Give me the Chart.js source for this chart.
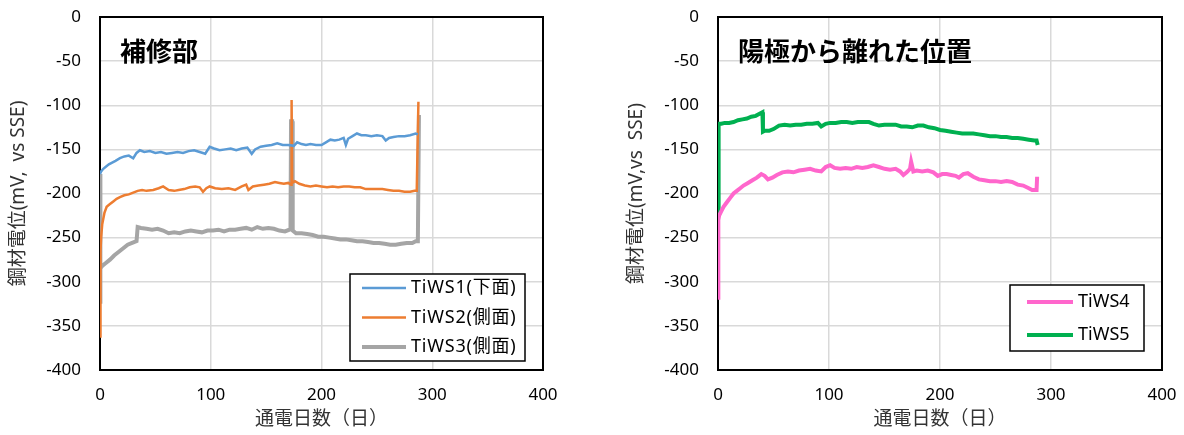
<!DOCTYPE html>
<html>
<head>
<meta charset="utf-8">
<script src="https://cdn.jsdelivr.net/npm/chart.js@4"></script>
<style>
    html, body { margin: 0; padding: 0; background: #fff; }
    #wrap { position: relative; width: 1184px; height: 435px; }
    #c1 { position: absolute; left: 0; top: 0; }
    #c2 { position: absolute; left: 618px; top: 0; }
</style>
</head>
<body>
<div id="wrap">
    <canvas id="c1" width="600" height="435"></canvas>
    <canvas id="c2" width="566" height="435"></canvas>
</div>
<script>
// --- data (days, mV vs SSE) ---
const days1 = [0, 1, 3, 5, 8, 11, 14, 18, 22, 26, 30, 33, 36, 40, 45, 50, 55, 60, 65, 70,
    75, 80, 85, 90, 95, 99, 103, 108, 113, 118, 123, 128, 133, 137, 140, 145, 150, 155, 160, 165,
    170, 175, 178, 182, 186, 190, 195, 200, 204, 208, 212, 216, 220, 222, 224, 228, 232, 236, 240, 245,
    250, 255, 258, 261, 265, 270, 275, 280, 285, 287];
const tiws1 = [-178, -175, -172, -170, -167, -165, -163, -160, -158, -157, -160, -154, -151, -153, -152, -154, -153, -155, -154, -153,
    -154, -152, -151, -153, -155, -147, -149, -151, -150, -149, -151, -149, -148, -155, -150, -147, -146, -145, -143, -145,
    -145, -146, -142, -144, -145, -144, -145, -145, -142, -139, -140, -139, -137, -145, -138, -135, -132, -134, -134, -135,
    -134, -135, -140, -137, -136, -135, -135, -134, -132, -133];

const days2 = [0, 0.3, 0.6, 1, 2, 4, 6, 9, 12, 15, 18, 22, 26, 30, 34, 38, 42, 48, 53, 57,
    62, 67, 71, 76, 81, 86, 90, 93, 96, 99, 104, 110, 116, 122, 128, 132, 134, 138, 143, 148,
    153, 158, 162, 166, 170, 172.5, 173, 173.5, 176, 180, 185, 190, 195, 200, 205, 210, 215, 220, 225, 230,
    235, 240, 245, 250, 255, 260, 265, 270, 275, 280, 284, 286, 287.5];
const tiws2 = [-362, -300, -265, -250, -235, -222, -215, -212, -209, -206, -204, -202, -201, -199, -197, -196, -197, -196, -194, -192,
    -196, -197, -196, -195, -193, -192, -193, -198, -194, -192, -194, -195, -194, -196, -192, -190, -196, -192, -191, -190,
    -189, -187, -188, -189, -188, -190, -94, -188, -186, -189, -191, -192, -191, -192, -193, -192, -193, -192, -192, -193,
    -193, -195, -195, -195, -195, -196, -197, -197, -198, -198, -197, -197, -96];

const days3 = [0, 0.2, 0.5, 2, 5, 9, 13, 17, 21, 25, 29, 33, 34, 37, 42, 47, 52, 57, 62, 67,
    72, 77, 82, 87, 92, 97, 102, 107, 112, 117, 122, 127, 132, 137, 142, 147, 152, 157, 162, 167,
    171, 172, 172.5, 173.5, 174, 177, 182, 187, 192, 197, 202, 207, 212, 217, 222, 227, 232, 237, 242, 247,
    252, 257, 262, 267, 272, 277, 282, 285, 287, 288];
const tiws3 = [-178, -325, -285, -282, -279, -275, -270, -266, -262, -258, -256, -254, -238, -239, -240, -241, -240, -242, -245, -244,
    -245, -243, -242, -243, -244, -242, -242, -241, -243, -241, -241, -240, -239, -241, -238, -240, -239, -240, -242, -243,
    -241, -240, -118, -118, -242, -245, -245, -246, -247, -249, -249, -250, -251, -252, -252, -253, -254, -254, -255, -256,
    -256, -257, -258, -258, -257, -256, -256, -254, -254, -111];

const days4 = [0, 0.3, 1, 3, 5, 8, 11, 14, 17, 20, 23, 27, 31, 35, 39, 42, 45, 49, 53, 58,
    63, 68, 73, 78, 83, 88, 93, 97, 101, 105, 110, 115, 120, 125, 130, 135, 140, 145, 150, 155,
    160, 164, 167, 170, 173, 174, 176, 179, 184, 189, 194, 198, 202, 206, 210, 214, 217, 221, 225, 230,
    235, 240, 245, 250, 255, 260, 265, 270, 275, 280, 283, 286, 287, 287.5];
const tiws4 = [-318, -230, -225, -220, -215, -210, -205, -200, -197, -194, -191, -188, -185, -182, -178, -180, -184, -182, -179, -176,
    -175, -176, -174, -173, -172, -174, -175, -170, -168, -171, -172, -171, -172, -170, -171, -170, -168, -170, -172, -173,
    -172, -175, -179, -176, -172, -164, -175, -174, -175, -174, -176, -180, -178, -178, -179, -180, -182, -178, -177, -181,
    -184, -185, -186, -186, -187, -186, -187, -190, -191, -194, -196, -196, -196, -181];

const days5 = [0, 0.3, 0.8, 3, 6, 10, 14, 18, 22, 26, 30, 34, 37, 40, 40.5, 42, 46, 50, 55, 60,
    65, 70, 75, 80, 85, 90, 93, 97, 101, 106, 111, 116, 121, 126, 131, 136, 140, 145, 150, 155,
    160, 165, 170, 175, 180, 185, 190, 195, 200, 205, 210, 215, 220, 225, 230, 235, 240, 245, 250, 255,
    260, 265, 270, 275, 280, 285, 287, 288];
const tiws5 = [-222, -143, -121, -121, -120, -120, -119, -117, -116, -115, -113, -112, -110, -108, -130, -129, -129, -127, -123, -122,
    -123, -122, -122, -121, -121, -120, -124, -121, -120, -120, -119, -119, -120, -119, -119, -119, -121, -123, -122, -122,
    -122, -124, -124, -125, -123, -123, -125, -126, -128, -129, -130, -131, -132, -132, -132, -133, -134, -135, -135, -136,
    -136, -137, -137, -138, -139, -140, -140, -145];

const xTicks = [0, 100, 200, 300, 400];
const yTicks = [0, -50, -100, -150, -200, -250, -300, -350, -400];

const pts = (xs, ys) => xs.map((x, i) => ({ x: x, y: ys[i] }));

const latin = "'Noto Sans', 'Noto Sans CJK JP', sans-serif";
const cjk = "'Noto Sans CJK JP', 'Noto Sans', sans-serif";

// black frame round the plot area (under the lines)
const frame = {
    id: 'frame',
    beforeDatasetsDraw(chart) {
        const { ctx, chartArea: a } = chart;
        ctx.save();
        ctx.strokeStyle = '#000';
        ctx.lineWidth = 2;
        ctx.strokeRect(a.left, a.top, a.right - a.left, a.bottom - a.top);
        ctx.restore();
    }
};

// bold caption in the upper left of the plot
const cornerTitle = {
    id: 'cornerTitle',
    afterDatasetsDraw(chart, args, o) {
        const { ctx, chartArea: a } = chart;
        ctx.save();
        ctx.font = 'bold 26px ' + cjk;
        ctx.fillStyle = '#000';
        ctx.textBaseline = 'middle';
        ctx.fillText(o.text, a.left + o.dx, a.top + o.dy);
        ctx.restore();
    }
};

// boxed legend inside the plot, lower right
const boxLegend = {
    id: 'boxLegend',
    afterDraw(chart, args, o) {
        const { ctx, chartArea: a } = chart;
        const x = a.right - o.right - o.width;
        const y = a.bottom - o.bottom - o.height;
        ctx.save();
        ctx.fillStyle = '#fff';
        ctx.fillRect(x, y, o.width, o.height);
        ctx.strokeStyle = '#000';
        ctx.lineWidth = 1.5;
        ctx.strokeRect(x, y, o.width, o.height);
        ctx.font = '18px ' + latin;
        if ('letterSpacing' in ctx) ctx.letterSpacing = o.spacing;
        ctx.textBaseline = 'middle';
        chart.data.datasets.forEach((ds, i) => {
            const cy = y + o.first + i * o.gap;
            ctx.strokeStyle = ds.borderColor;
            ctx.lineWidth = ds.borderWidth;
            ctx.beginPath();
            ctx.moveTo(x + o.lineStart, cy);
            ctx.lineTo(x + o.lineStart + o.lineLen, cy);
            ctx.stroke();
            ctx.fillStyle = '#000';
            ctx.fillText(ds.label, x + o.lineStart + o.lineLen + 5, cy);
        });
        ctx.restore();
    }
};

function line(label, xs, ys, color, width) {
    return {
        label: label,
        data: pts(xs, ys),
        borderColor: color,
        backgroundColor: color,
        borderWidth: width,
        showLine: true,
        pointRadius: 0,
        tension: 0
    };
}

// tick gaps are made with invisible tick marks, so they do not widen the layout padding
function makeOptions(yTitle, padRight, title, legend) {
    return {
        responsive: false,
        animation: false,
        layout: { padding: { top: 17, right: padRight, bottom: 0, left: 0 } },
        scales: {
            x: {
                type: 'linear',
                min: 0,
                max: 400,
                afterBuildTicks: (s) => { s.ticks = xTicks.map(v => ({ value: v })); },
                afterFit: (s) => { s.height = 65; },
                grid: { color: '#d9d9d9', lineWidth: 1.5, drawTicks: true, tickLength: 15, tickColor: 'rgba(0,0,0,0)' },
                border: { display: false },
                ticks: { color: '#000', padding: 0, font: { family: latin, size: 17 } },
                title: {
                    display: true,
                    text: '通電日数（日）',
                    color: '#333',
                    font: { family: cjk, size: 19 },
                    padding: { top: 0, bottom: 6 }
                }
            },
            y: {
                type: 'linear',
                min: -400,
                max: 0,
                afterBuildTicks: (s) => { s.ticks = yTicks.map(v => ({ value: v })); },
                afterFit: (s) => { s.width = 100; },
                grid: { color: '#d9d9d9', lineWidth: 1.5, drawTicks: true, tickLength: 19, tickColor: 'rgba(0,0,0,0)' },
                border: { display: false },
                ticks: { color: '#000', padding: 0, font: { family: latin, size: 17 } },
                title: {
                    display: true,
                    text: yTitle,
                    color: '#333',
                    font: { family: latin, size: 19 },
                    padding: { top: 7, bottom: 0 }
                }
            }
        },
        plugins: {
            legend: { display: false },
            tooltip: { enabled: false },
            cornerTitle: title,
            boxLegend: legend
        }
    };
}

new Chart(document.getElementById('c1'), {
    type: 'scatter',
    data: {
        datasets: [
            line('TiWS1(下面)', days1, tiws1, '#5b9bd5', 2.5),
            line('TiWS2(側面)', days2, tiws2, '#ed7d31', 2.5),
            line('TiWS3(側面)', days3, tiws3, '#a5a5a5', 4)
        ]
    },
    options: makeOptions('鋼材電位(mV,  vs SSE)', 57,
        { text: '補修部', dx: 20, dy: 34 },
        { width: 175, height: 87, right: 18, bottom: 9, first: 14, gap: 29.5, lineStart: 12, lineLen: 44, spacing: '0.8px' }),
    plugins: [frame, cornerTitle, boxLegend]
});

new Chart(document.getElementById('c2'), {
    type: 'scatter',
    data: {
        datasets: [
            line('TiWS4', days4, tiws4, '#ff66cc', 4),
            line('TiWS5', days5, tiws5, '#00b050', 4)
        ]
    },
    options: makeOptions('鋼材電位(mV,vs  SSE)', 22,
        { text: '陽極から離れた位置', dx: 20, dy: 34 },
        { width: 134, height: 66, right: 18, bottom: 19, first: 17, gap: 33, lineStart: 17, lineLen: 46, spacing: '0px' }),
    plugins: [frame, cornerTitle, boxLegend]
});
</script>
</body>
</html>
